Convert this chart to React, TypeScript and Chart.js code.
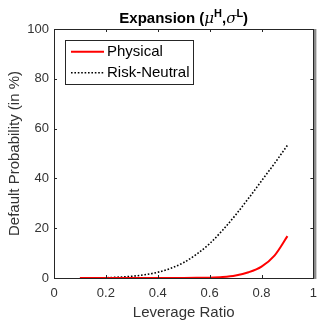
import React, { useEffect, useRef } from "react";
import { Chart, registerables } from "chart.js";

Chart.register(...registerables);

const leverage = [0.1, 0.15, 0.2, 0.25, 0.3, 0.35, 0.4, 0.45, 0.5, 0.55, 0.6, 0.65, 0.7, 0.75, 0.8, 0.85, 0.9];
const physical = [0, 0, 0, 0, 0, 0.005, 0.01, 0.02, 0.04, 0.08, 0.15, 0.4, 1.0, 2.3, 4.6, 9.0, 16.8];
const riskNeutral = [0, 0.02, 0.1, 0.35, 0.7, 1.3, 2.3, 3.9, 6.2, 9.6, 13.8, 19.2, 25.3, 32, 39, 46, 53.3];
const xTicks = [0, 0.2, 0.4, 0.6, 0.8, 1];
const yTicks = [0, 20, 40, 60, 80, 100];

const FONT = "'Liberation Sans', Arial, sans-serif";
const AXIS = "#262626";
const TEXT = "#333333";

const boxPlugin = {
  id: "matlabBox",
  afterDraw(chart: any) {
    const { ctx, chartArea: a, scales } = chart;
    const xs = scales.x;
    const ys = scales.y;
    ctx.save();
    ctx.fillStyle = "#8c8c8c";
    ctx.fillRect(a.right + 0.5, a.top, 2.5, a.bottom - a.top + 1);
    ctx.strokeStyle = AXIS;
    ctx.lineWidth = 1;
    ctx.strokeRect(Math.round(a.left) + 0.5, Math.round(a.top) + 0.5, Math.round(a.right - a.left), Math.round(a.bottom - a.top));
    const tl = 3;
    ctx.beginPath();
    for (const t of xTicks) {
      const px = Math.round(xs.getPixelForValue(t)) + 0.5;
      ctx.moveTo(px, a.bottom);
      ctx.lineTo(px, a.bottom - tl);
      ctx.moveTo(px, a.top);
      ctx.lineTo(px, a.top + tl);
    }
    for (const t of yTicks) {
      const py = Math.round(ys.getPixelForValue(t)) + 0.5;
      ctx.moveTo(a.left, py);
      ctx.lineTo(a.left + tl, py);
      ctx.moveTo(a.right, py);
      ctx.lineTo(a.right - tl, py);
    }
    ctx.stroke();

    // legend
    const lx = 65.5, ly = 40.5, lw = 128, lh = 44;
    ctx.fillStyle = "#ffffff";
    ctx.fillRect(lx, ly, lw, lh);
    ctx.strokeStyle = "#262626";
    ctx.lineWidth = 1;
    ctx.strokeRect(lx, ly, lw, lh);
    const rows = [51.7, 72.7];
    chart.data.datasets.forEach((ds: any, i: number) => {
      const y = rows[i];
      ctx.strokeStyle = ds.borderColor;
      ctx.lineWidth = ds.borderWidth;
      ctx.setLineDash(ds.borderDash || []);
      ctx.beginPath();
      ctx.moveTo(71, y);
      ctx.lineTo(104, y);
      ctx.stroke();
      ctx.setLineDash([]);
      ctx.fillStyle = "#000000";
      ctx.font = `15px ${FONT}`;
      ctx.textBaseline = "middle";
      ctx.textAlign = "left";
      ctx.fillText(ds.label, 107, y + 0.5);
    });

    // title with superscripts
    const segs = [
      { t: "Expansion (", f: `bold 15px ${FONT}`, dy: 0 },
      { t: "μ", f: `italic 15px 'DejaVu Serif', serif`, dy: 0 },
      { t: "H", f: `bold 11px ${FONT}`, dy: -6 },
      { t: ",", f: `bold 15px ${FONT}`, dy: 0 },
      { t: "σ", f: `italic 15px 'DejaVu Serif', serif`, dy: 0 },
      { t: "L", f: `bold 11px ${FONT}`, dy: -6 },
      { t: ")", f: `bold 15px ${FONT}`, dy: 0 },
    ];
    let total = 0;
    for (const s of segs) {
      ctx.font = s.f;
      total += ctx.measureText(s.t).width;
    }
    let x = (a.left + a.right) / 2 - total / 2;
    const base = 22.5;
    ctx.fillStyle = "#000000";
    ctx.textBaseline = "alphabetic";
    ctx.textAlign = "left";
    for (const s of segs) {
      ctx.font = s.f;
      ctx.fillText(s.t, x, base + s.dy);
      x += ctx.measureText(s.t).width;
    }
    ctx.restore();
  },
};

export default function App() {
  const ref = useRef<HTMLCanvasElement>(null);
  useEffect(() => {
    const canvas = ref.current;
    if (!canvas) return;
    const chart = new Chart(canvas, {
      type: "line",
      data: {
        datasets: [
          {
            label: "Physical",
            data: leverage.map((x, i) => ({ x, y: physical[i] })),
            borderColor: "#ff0000",
            borderWidth: 2,
            pointRadius: 0,
            cubicInterpolationMode: "monotone",
            fill: false,
          },
          {
            label: "Risk-Neutral",
            data: leverage.map((x, i) => ({ x, y: riskNeutral[i] })),
            borderColor: "#000000",
            borderWidth: 1.6,
            borderDash: [1.6, 1.8],
            pointRadius: 0,
            cubicInterpolationMode: "monotone",
            fill: false,
          },
        ],
      },
      options: {
        animation: false,
        responsive: false,
        layout: { padding: { top: 29, right: 2, left: 0, bottom: 0 } },
        plugins: { legend: { display: false }, title: { display: false }, tooltip: { enabled: false } },
        scales: {
          x: {
            type: "linear",
            min: 0,
            max: 1,
            afterFit: (s: any) => { s.height = 42; },
            afterBuildTicks: (s: any) => { s.ticks = xTicks.map((v) => ({ value: v })); },
            grid: { display: false, drawTicks: false },
            border: { display: false },
            ticks: { padding: 8, color: TEXT, font: { family: FONT, size: 13 }, maxRotation: 0, callback: (v: any) => String(v) },
            title: { display: true, text: "Leverage Ratio", color: TEXT, font: { family: FONT, size: 15, lineHeight: 1 }, padding: { top: 0, bottom: 0 } },
          },
          y: {
            type: "linear",
            min: 0,
            max: 100,
            afterFit: (s: any) => { s.width = 54; },
            afterBuildTicks: (s: any) => { s.ticks = yTicks.map((v) => ({ value: v })); },
            grid: { display: false, drawTicks: false },
            border: { display: false },
            ticks: { padding: 5, color: TEXT, font: { family: FONT, size: 13 }, callback: (v: any) => String(v) },
            title: { display: true, text: "Default Probability (in %)", color: TEXT, font: { family: FONT, size: 15, lineHeight: 1 }, padding: { top: 7, bottom: 0 } },
          },
        },
      },
      plugins: [boxPlugin],
    } as any);
    return () => chart.destroy();
  }, []);
  return (
    <div style={{ position: "absolute", left: 0, top: 0, width: 325, height: 320, background: "#fff" }}>
      <canvas ref={ref} width={325} height={320} />
    </div>
  );
}
